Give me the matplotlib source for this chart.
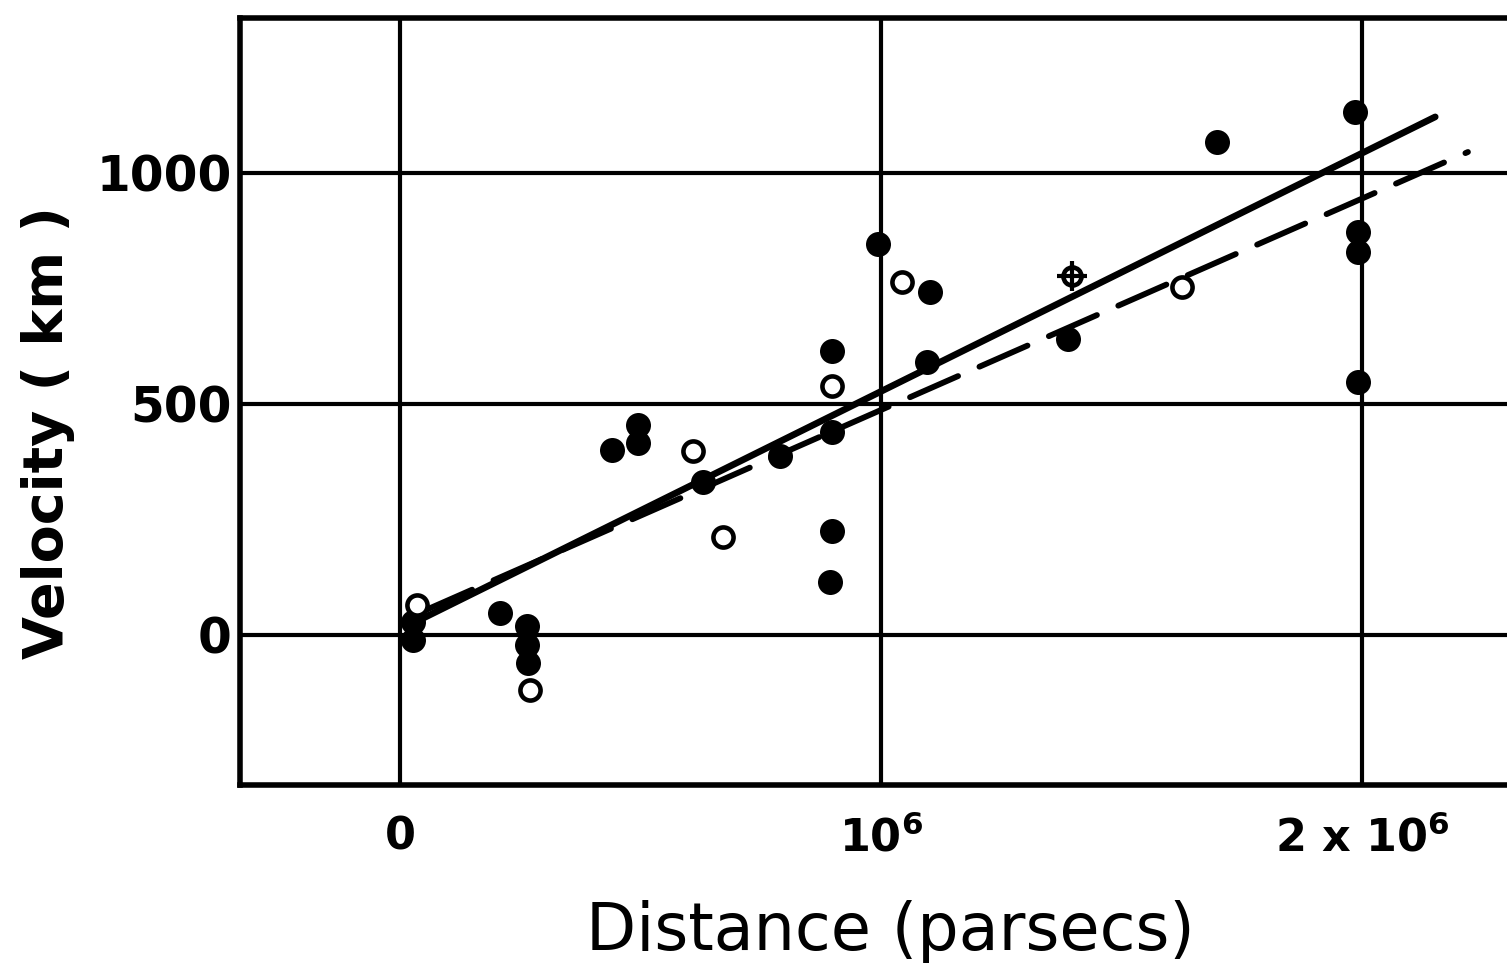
import numpy as np
import matplotlib
matplotlib.use("Agg")
import matplotlib.pyplot as plt

plt.rcParams.update({'font.family': 'DejaVu Sans', 'mathtext.default': 'regular'})

# filled circles (distance in parsecs, velocity in km)
filled_d = [0.027e6, 0.027e6, 0.208e6, 0.264e6, 0.264e6, 0.266e6, 0.441e6, 0.495e6,
            0.495e6, 0.63e6, 0.79e6, 0.898e6, 0.898e6, 0.898e6, 0.894e6, 0.994e6,
            1.102e6, 1.096e6, 1.389e6, 1.699e6, 1.985e6, 1.992e6, 1.992e6, 1.992e6]
filled_v = [28, -11, 48, 20, -22, -60, 401, 455,
            416, 331, 387, 615, 439, 225, 115, 846,
            742, 591, 641, 1067, 1132, 872, 829, 548]

# open circles
open_d = [0.035e6, 0.27e6, 0.609e6, 0.672e6, 0.898e6, 1.044e6, 1.626e6]
open_v = [65, -119, 398, 212, 539, 764, 753]

# the odd symbol (circle with cross)
cross_d = [1.397e6]
cross_v = [777]

# fitted lines (end points)
solid_d = [0.021e6, 2.152e6]
solid_v = [22, 1121]
dash_d = [0.05e6, 2.22e6]
dash_v = [52, 1045]

fig = plt.figure(figsize=(15.07, 9.63), dpi=100)
ax = fig.add_axes([240/1507, 178/963, 1290/1507, 767/963])

ax.set_xlim(-0.3326e6, 2.349e6)
ax.set_ylim(-325, 1335)

for g in [0, 1e6, 2e6]:
    ax.axvline(g, color='black', lw=3, zorder=1)
for g in [0, 500, 1000]:
    ax.axhline(g, color='black', lw=3, zorder=1)

ax.plot(solid_d, solid_v, color='black', lw=4.8, solid_capstyle='round', zorder=2)
ax.plot(dash_d, dash_v, color='black', lw=4.2, dashes=(9, 4), dash_capstyle='round', zorder=2)

ax.plot(filled_d, filled_v, 'o', color='black', ms=18, mew=0, ls='none', zorder=3)
ax.plot(open_d, open_v, 'o', mfc='white', mec='black', ms=14.5, mew=3.3, ls='none', zorder=3)
ax.plot(cross_d, cross_v, 'o', mfc='white', mec='black', ms=13, mew=3.3, ls='none', zorder=3)
ax.plot(cross_d, cross_v, '+', color='black', ms=22, mew=3, ls='none', zorder=4)

for s in ['left', 'top', 'bottom']:
    ax.spines[s].set_linewidth(4)
ax.spines['right'].set_visible(False)

ax.set_xticks([0, 1e6, 2e6])
ax.set_xticklabels(['0', '$10^6$', '2 x $10^6$'], fontsize=32, fontweight='bold')
ax.set_yticks([0, 500, 1000])
ax.set_yticklabels(['0', '500', '1000'], fontsize=35, fontweight='bold')
ax.tick_params(axis='y', length=0, pad=6)
ax.tick_params(axis='x', length=0, pad=22)

ax.set_xlabel('Distance (parsecs)', fontsize=47, va='center')
ax.xaxis.set_label_coords(0.504, -0.192)
ax.set_ylabel('Velocity ( km )', fontsize=40, fontweight='bold', va='center')
ax.yaxis.set_label_coords(-0.149, 0.46)

plt.savefig("out.png", dpi=100)
